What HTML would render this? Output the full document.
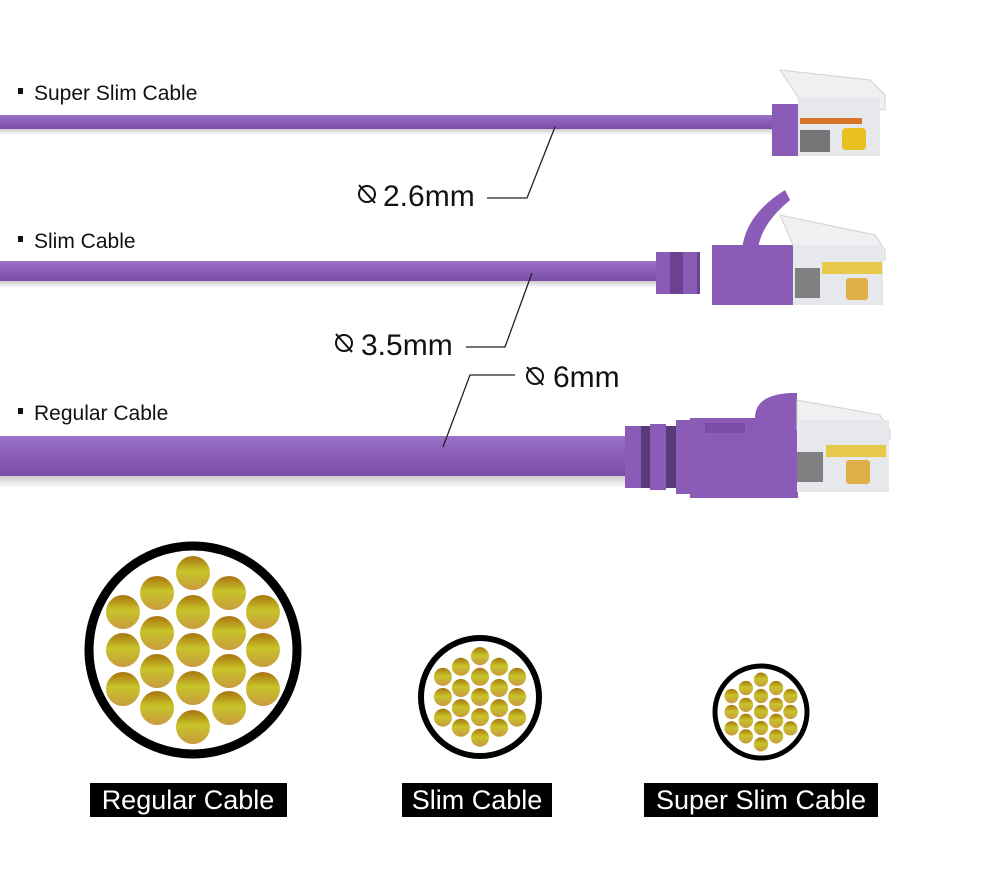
<!DOCTYPE html>
<html><head><meta charset="utf-8"><style>
body{margin:0;background:#fff;}
svg{display:block;font-family:"Liberation Sans",sans-serif;}
</style></head><body>
<svg width="1000" height="894" viewBox="0 0 1000 894" xmlns="http://www.w3.org/2000/svg">
<defs>
<linearGradient id="g" x1="0" y1="0" x2="0" y2="1">
<stop offset="0" stop-color="#a8740f"/><stop offset="0.45" stop-color="#c8c42a"/><stop offset="1" stop-color="#c89a40"/>
</linearGradient>
<linearGradient id="cab" x1="0" y1="0" x2="0" y2="1">
<stop offset="0" stop-color="#9c72c8"/><stop offset="0.5" stop-color="#8a5cb8"/><stop offset="1" stop-color="#7a4ea6"/>
</linearGradient>
<linearGradient id="sh" x1="0" y1="0" x2="0" y2="1">
<stop offset="0" stop-color="#ccc"/><stop offset="1" stop-color="#fff"/>
</linearGradient>
<g id="dots">
<circle cx="0" cy="-77" r="17"/><circle cx="0" cy="-38" r="17"/><circle cx="0" cy="0" r="17"/><circle cx="0" cy="38" r="17"/><circle cx="0" cy="77" r="17"/>
<circle cx="-36" cy="-57" r="17"/><circle cx="-36" cy="-17" r="17"/><circle cx="-36" cy="21" r="17"/><circle cx="-36" cy="58" r="17"/>
<circle cx="36" cy="-57" r="17"/><circle cx="36" cy="-17" r="17"/><circle cx="36" cy="21" r="17"/><circle cx="36" cy="58" r="17"/>
<circle cx="-70" cy="-38" r="17"/><circle cx="-70" cy="0" r="17"/><circle cx="-70" cy="39" r="17"/>
<circle cx="70" cy="-38" r="17"/><circle cx="70" cy="0" r="17"/><circle cx="70" cy="39" r="17"/>
</g>
</defs>

<g font-size="21" fill="#111">
<rect x="18" y="88" width="5" height="6"/><text x="34" y="100">Super Slim Cable</text>
<rect x="18" y="236" width="5" height="6"/><text x="34" y="248">Slim Cable</text>
<rect x="18" y="408" width="5" height="6"/><text x="34" y="420">Regular Cable</text>
</g>

<!-- super slim cable -->
<rect x="0" y="129" width="790" height="6" fill="url(#sh)"/>
<rect x="0" y="115" width="790" height="14" fill="url(#cab)"/>
<rect x="772" y="104" width="26" height="52" fill="#8a5cb8"/>
<path d="M780 70 L870 80 L885 95 L885 110 L800 100 Z" fill="#eef0f2" stroke="#cfd3d8"/>
<rect x="798" y="98" width="82" height="58" fill="#e6e8ec"/>
<rect x="800" y="118" width="62" height="6" fill="#d8742a"/>
<rect x="842" y="128" width="24" height="22" rx="4" fill="#e8c020"/>
<rect x="800" y="130" width="30" height="22" fill="#2a2a2a" opacity="0.6"/>

<!-- slim cable -->
<rect x="0" y="281" width="665" height="7" fill="url(#sh)"/>
<rect x="0" y="261" width="665" height="20" fill="url(#cab)"/>
<rect x="656" y="252" width="44" height="42" fill="#6a4290"/>
<rect x="656" y="252" width="14" height="42" fill="#8a5cb8"/>
<rect x="683" y="252" width="14" height="42" fill="#8a5cb8"/>
<rect x="712" y="245" width="110" height="60" fill="#8a5cb8"/>
<path d="M742 250 Q745 215 785 190 L790 200 Q760 225 758 250 Z" fill="#8a5cb8"/>
<path d="M780 215 L875 235 L885 250 L885 260 L795 250 Z" fill="#eef0f2" stroke="#cfd3d8"/>
<rect x="793" y="245" width="90" height="60" fill="#e6e8ec"/>
<rect x="822" y="262" width="60" height="12" fill="#e8c848"/>
<rect x="846" y="278" width="22" height="22" rx="3" fill="#e0b048"/>
<rect x="795" y="268" width="25" height="30" fill="#2a2a2a" opacity="0.55"/>

<!-- regular cable -->
<rect x="0" y="476" width="640" height="12" fill="url(#sh)"/>
<rect x="0" y="436" width="640" height="40" fill="url(#cab)"/>
<rect x="625" y="426" width="66" height="62" fill="#5a3a7a"/>
<rect x="625" y="426" width="16" height="62" fill="#8a5cb8"/>
<rect x="650" y="424" width="16" height="66" fill="#8a5cb8"/>
<rect x="676" y="420" width="16" height="74" fill="#8a5cb8"/>
<rect x="690" y="418" width="108" height="80" fill="#8a5cb8"/>
<path d="M755 418 Q755 395 790 393 L797 393 L797 418 Z" fill="#8a5cb8"/>
<rect x="705" y="423" width="40" height="10" fill="#7a4ea6"/>
<path d="M797 400 L880 415 L890 430 L890 440 L797 430 Z" fill="#eef0f2" stroke="#cfd3d8"/>
<rect x="797" y="420" width="92" height="72" fill="#e6e8ec"/>
<rect x="826" y="445" width="60" height="12" fill="#e8c848"/>
<rect x="846" y="460" width="24" height="24" rx="3" fill="#e0b048"/>
<rect x="797" y="452" width="26" height="30" fill="#2a2a2a" opacity="0.55"/>

<g stroke="#222" stroke-width="1.3" fill="none">
<polyline points="555,127 527,198 487,198"/>
<polyline points="532,273 505,347 466,347"/>
<polyline points="443,447 470,375 515,375"/>
</g>
<g font-size="30" fill="#111">
<text x="383" y="206">2.6mm</text>
<text x="361" y="355">3.5mm</text>
<text x="553" y="387">6mm</text>
</g>
<g stroke="#111" stroke-width="2" fill="none">
<circle cx="367" cy="194" r="8"/><line x1="359" y1="185" x2="375" y2="203"/>
<circle cx="344" cy="343" r="8"/><line x1="336" y1="334" x2="352" y2="352"/>
<circle cx="535" cy="376" r="8"/><line x1="527" y1="367" x2="543" y2="385"/>
</g>

<circle cx="193" cy="650" r="104" fill="#fff" stroke="#000" stroke-width="9"/>
<g transform="translate(193,650)" fill="url(#g)"><use href="#dots"/></g>
<circle cx="480" cy="697" r="59" fill="#fff" stroke="#000" stroke-width="6"/>
<g transform="translate(480,697) scale(0.53)" fill="url(#g)"><use href="#dots"/></g>
<circle cx="761" cy="712" r="46" fill="#fff" stroke="#000" stroke-width="5"/>
<g transform="translate(761,712) scale(0.42)" fill="url(#g)"><use href="#dots"/></g>

<rect x="90" y="783" width="197" height="34" fill="#000"/>
<text x="188" y="809" font-size="27" fill="#fff" text-anchor="middle">Regular Cable</text>
<rect x="402" y="783" width="150" height="34" fill="#000"/>
<text x="477" y="809" font-size="27" fill="#fff" text-anchor="middle">Slim Cable</text>
<rect x="644" y="783" width="234" height="34" fill="#000"/>
<text x="761" y="809" font-size="27" fill="#fff" text-anchor="middle">Super Slim Cable</text>
</svg>
</body></html>
